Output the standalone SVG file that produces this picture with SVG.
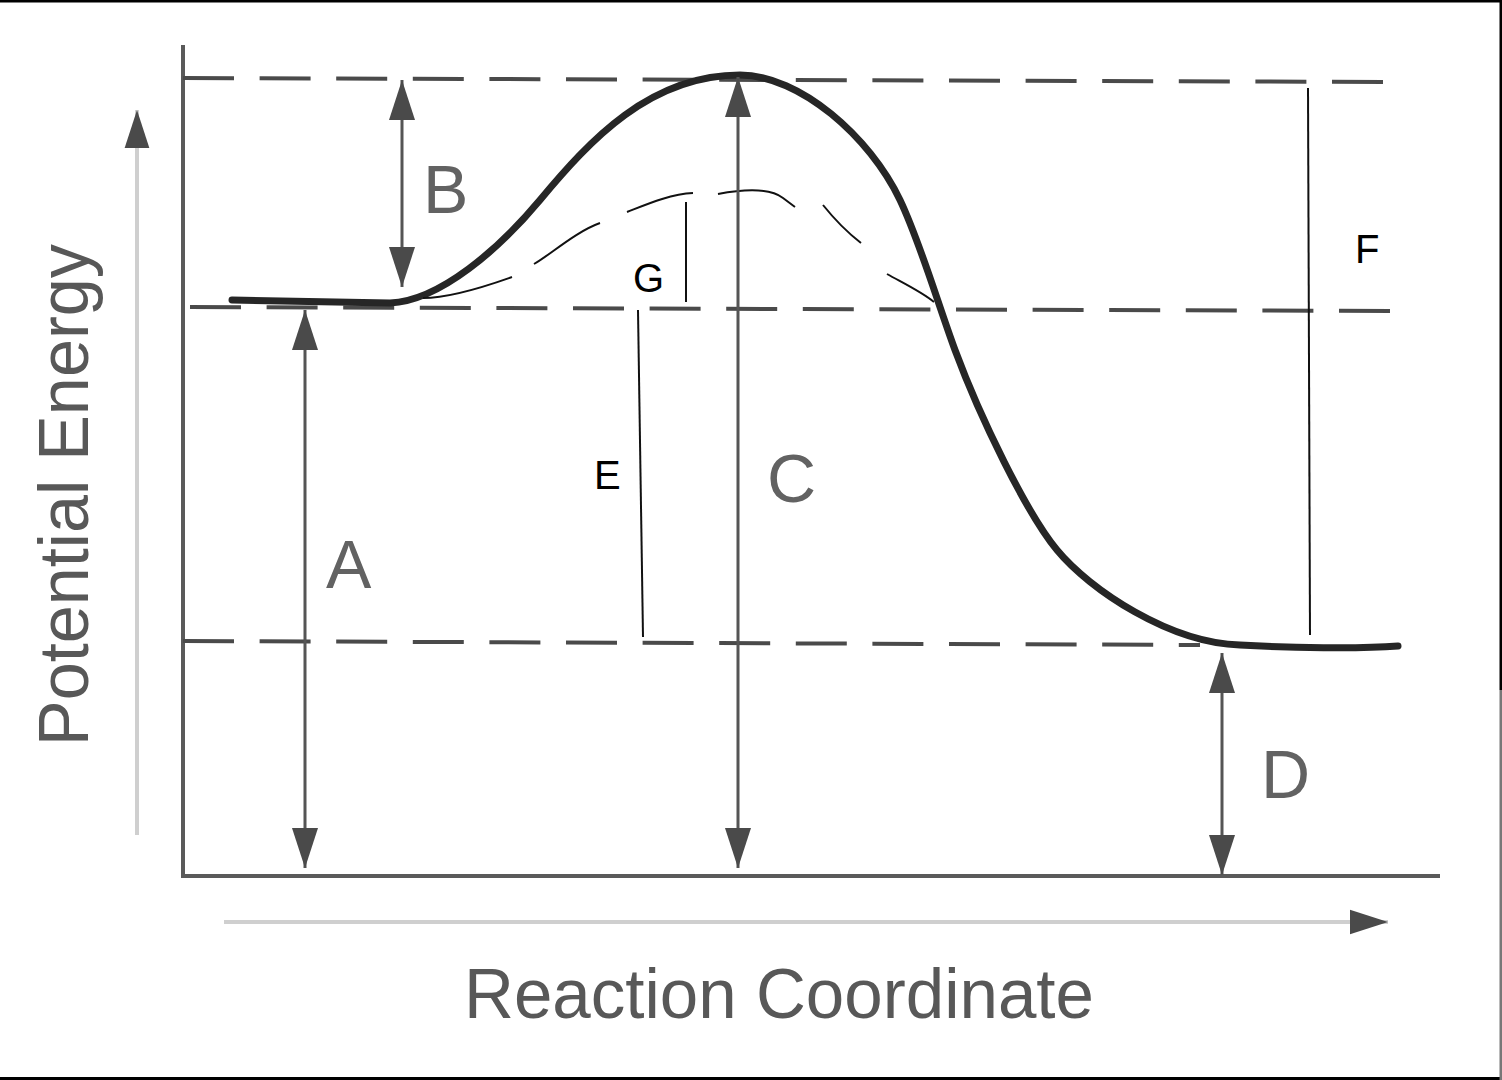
<svg xmlns="http://www.w3.org/2000/svg" width="1502" height="1080" viewBox="0 0 1502 1080">
<defs>
<marker id="ah" viewBox="0 0 40 26" refX="40" refY="13" markerWidth="40" markerHeight="26" markerUnits="userSpaceOnUse" orient="auto-start-reverse">
<path d="M0,0 L40,13 L0,26 Z" fill="#4a4a4a"/>
</marker>
<marker id="axh" viewBox="0 0 40 26" refX="40" refY="13" markerWidth="38" markerHeight="26" markerUnits="userSpaceOnUse" orient="auto">
<path d="M0,0 L40,13 L0,26 Z" fill="#4a4a4a"/>
</marker>
<style>
.axis{stroke:#5a5a5a;stroke-width:4;fill:none}
.faint{stroke:#cfcfcf;stroke-width:4;fill:none}
.dash{stroke:#4a4a4a;stroke-width:4;fill:none;stroke-dasharray:51 25.6}
.dim{stroke:#555;stroke-width:3;fill:none}
.curve{stroke:#262626;stroke-width:7;fill:none;stroke-linecap:round;stroke-linejoin:round}
.hand{stroke:#111;stroke-width:2;fill:none}
.thin{stroke:#111;stroke-width:2;fill:none}
.glab{font-family:"Liberation Sans",Arial,sans-serif;fill:#626262;font-size:68px}
.blab{font-family:"Liberation Sans",Arial,sans-serif;fill:#000;font-size:40px}
.title{font-family:"Liberation Sans",Arial,sans-serif;fill:#585858;font-size:70px}
</style>
</defs>
<rect x="0" y="0" width="1502" height="1080" fill="#ffffff"/>
<g id="frame">
<rect x="0" y="0" width="1502" height="2.5" fill="#000"/>
<rect x="0" y="1077" width="1502" height="3" fill="#000"/>
<rect x="1499.5" y="0" width="2.5" height="690" fill="#000"/>
<rect x="1499.5" y="690" width="2.5" height="390" fill="#777"/>
</g>
<g id="axes">
<line class="faint" x1="137" y1="835" x2="137" y2="110" marker-end="url(#axh)"/>
<line class="faint" x1="224" y1="922" x2="1388" y2="922" marker-end="url(#axh)"/>
<polyline class="axis" points="183,45 183,876 1440,876"/>
</g>
<g id="levels">
<line class="dash" x1="183" y1="78" x2="1392" y2="82"/>
<line class="dash" x1="183" y1="307" x2="1392" y2="311" stroke-dashoffset="-7"/>
<line class="dash" x1="183" y1="641" x2="1200" y2="645"/>
</g>
<g id="energy-curve">
<path class="curve" d="M232,300 L390,303 C440,301 500,248 540,200 C590,140 650,75 740,75 C800,75 870,137 900,200 C920,242 937,301 955,350 C980,417.5 1027,514 1057,550 C1090,590 1170,643 1240,645 C1290,648 1360,649 1398,646"/>
</g>
<g id="catalysed-curve">
<path class="hand" d="M423,298 C440,298 470,292 512,277"/>
<path class="hand" d="M534,264 C550,255 575,232 600,223"/>
<path class="hand" d="M627,212 C645,205 670,194 693,193"/>
<path class="hand" d="M718,194 C745,189 770,188 783,198 L795,207"/>
<path class="hand" d="M823,205 C835,220 848,233 861,243"/>
<path class="hand" d="M887,274 C905,284 922,292 934,302"/>
</g>
<g id="connectors">
<line class="dim" x1="305" y1="310" x2="305" y2="868" marker-start="url(#ah)" marker-end="url(#ah)"/>
<line class="dim" x1="402" y1="80" x2="402" y2="287" marker-start="url(#ah)" marker-end="url(#ah)"/>
<line class="dim" x1="738" y1="77" x2="738" y2="868" marker-start="url(#ah)" marker-end="url(#ah)"/>
<line class="dim" x1="1222" y1="653" x2="1222" y2="875" marker-start="url(#ah)" marker-end="url(#ah)"/>
<line class="thin" x1="638" y1="310" x2="643" y2="637"/>
<line class="thin" x1="686" y1="202" x2="686" y2="302"/>
<line class="thin" x1="1308" y1="88" x2="1310" y2="635"/>
</g>
<g id="label-A"><text class="glab" x="326" y="588">A</text></g>
<g id="label-B"><text class="glab" x="423" y="213">B</text></g>
<g id="label-C"><text class="glab" x="767" y="502">C</text></g>
<g id="label-D"><text class="glab" x="1261" y="798">D</text></g>
<g id="label-E"><text class="blab" x="594" y="489">E</text></g>
<g id="label-F"><text class="blab" x="1355" y="263">F</text></g>
<g id="label-G"><text class="blab" x="633" y="292">G</text></g>
<g id="axis-titles">
<text class="title" transform="translate(88,746) rotate(-90)" x="0" y="0" textLength="502" lengthAdjust="spacingAndGlyphs">Potential Energy</text>
<text class="title" x="464" y="1018" textLength="630" lengthAdjust="spacingAndGlyphs">Reaction Coordinate</text>
</g>
</svg>
